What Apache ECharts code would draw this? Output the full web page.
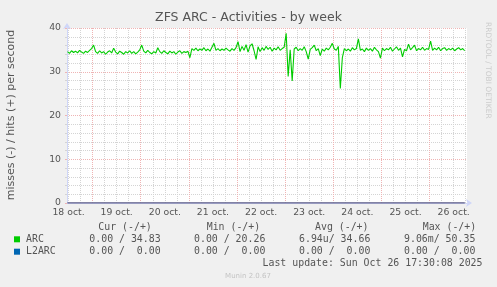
<!DOCTYPE html>
<html><head><meta charset="utf-8">
<script src="https://cdn.jsdelivr.net/npm/echarts@6/dist/echarts.min.js"></script>
<style>html,body{margin:0;padding:0;background:#f0f0f0;overflow:hidden}#c{width:497px;height:287px}</style>
</head><body><div id="c"></div>
<script>
// time is counted in hours from 18 oct 00:00
const viewStartHour = 11.24;
const viewEndHour = 210.65;
const arcStartHour = 11.5;
const arcStepHour = 1;
const arcHits = [
34.6,34.2,34.8,34.4,34.7,34.3,34.9,34.5,34.2,34.7,
34.4,34.9,35.3,36.1,34.6,34.2,34.8,34.3,34.6,34.0,
34.5,34.8,34.3,35.4,34.5,34.1,34.7,34.4,34.0,34.6,
34.3,34.8,34.2,34.6,34.1,34.5,35.0,36.1,34.7,34.3,
34.9,34.4,34.1,34.6,34.3,35.5,34.6,34.2,34.8,34.4,
34.1,34.7,34.3,34.6,34.0,34.5,34.8,34.2,34.6,34.4,
34.7,33.2,35.3,34.9,35.4,34.8,35.2,34.9,35.5,34.8,
35.2,34.7,35.6,36.5,34.9,35.3,34.8,35.2,34.9,35.4,
35.0,34.7,35.3,34.9,35.5,36.9,34.6,35.8,34.9,36.2,
34.5,35.9,36.4,34.8,32.8,35.7,34.6,35.5,34.9,35.8,
35.1,35.6,34.7,35.4,35.0,35.7,34.9,35.3,35.6,38.8,
28.9,35.0,27.9,35.2,35.6,34.8,35.3,34.9,35.7,34.6,
32.9,35.1,35.5,36.1,34.8,35.3,33.7,35.2,34.7,35.4,
35.0,35.6,36.5,35.2,34.9,35.8,26.2,33.2,35.3,34.8,
35.2,34.7,35.5,35.0,35.3,37.5,34.9,35.2,34.6,35.4,
34.9,35.3,34.7,35.6,35.0,34.6,33.1,35.4,34.8,35.3,
35.0,35.6,34.7,35.2,35.7,34.9,35.4,33.4,35.1,34.8,
36.3,35.0,35.5,36.1,34.8,35.3,35.0,35.6,34.9,35.3,
35.1,37.0,34.9,35.4,35.0,35.6,34.8,35.3,35.5,34.9,
35.3,35.0,35.4,34.8,35.2,35.5,35.0,35.3,34.8
];
const zeroHours = [11.5, 209.5];
const arcMisses = [0, 0];
const l2arcHits = [0, 0];
const l2arcMisses = [0, 0];
const dayLabels = ['18 oct.','19 oct.','20 oct.','21 oct.','22 oct.','23 oct.','24 oct.','25 oct.','26 oct.'];
const dayNoonHours = [12, 36, 60, 84, 108, 132, 156, 180, 204];
const yMin = 0, yMax = 40, yMajor = 10, yMinor = 2;
const legendHeaders = ['Cur (-/+)', 'Min (-/+)', 'Avg (-/+)', 'Max (-/+)'];
const legendNames = ['ARC', 'L2ARC'];
const legendColors = ['#00CC00', '#0066B3'];
const arcStats = ['0.00 / 34.83', '0.00 / 20.26', '6.94u/ 34.66', '9.06m/ 50.35'];
const l2arcStats = ['0.00 /  0.00', '0.00 /  0.00', '0.00 /  0.00', '0.00 /  0.00'];
const titleText = 'ZFS ARC - Activities - by week';
const yAxisName = 'misses (-) / hits (+) per second';
const lastUpdate = 'Last update: Sun Oct 26 17:30:08 2025';
const watermark = 'Munin 2.0.67';
const sideText = 'RRDTOOL / TOBI OETIKER';

const arcData = arcHits.map((v, i) => [arcStartHour + i * arcStepHour, v]);
const zeroData = (arr) => arr.map((v, i) => [zeroHours[i], v]);

const minorX = [], majorX = [];
for (let h = 6; h < viewEndHour; h += 6) {
  if (h < viewStartHour) continue;
  if (h % 24 === 0) majorX.push(h); else minorX.push(h);
}

const SANS = 'DejaVu Sans', MONO = 'DejaVu Sans Mono';
const FONT = '#555555';
const gridGrey = '#d4d4d4', gridRed = '#efb4b4', axisCol = '#CFD6F8', zeroCol = '#707096';

const graphic = [
  {type:'text', left:'center', top:11, style:{text:titleText, font:'12.5px "DejaVu Sans"', fill:'#555'}},
  {type:'text', x:11, y:115, rotation:Math.PI/2, style:{text:yAxisName, font:'11px "DejaVu Sans"', fill:FONT, align:'center', verticalAlign:'middle'}},
  {type:'text', x:488, y:22, rotation:-Math.PI/2, style:{text:sideText, font:'7.5px "DejaVu Sans"', fill:'#cccccc', align:'left', verticalAlign:'middle'}},
  {type:'text', x:482.5, y:263.5, style:{text:lastUpdate, font:'9.9px "DejaVu Sans Mono"', fill:FONT, align:'right', verticalAlign:'middle'}},
  {type:'text', x:248, y:275.7, style:{text:watermark, font:'7px "DejaVu Sans"', fill:'#c4c4c4', align:'center', verticalAlign:'middle'}}
];
const headerX = [98.3, 206.7, 315, 422.7];
const colX = [89.3, 194, 299, 404];
legendHeaders.forEach((t, i) => graphic.push({type:'text', x:headerX[i], y:227.3, style:{text:t, font:'9.9px "DejaVu Sans Mono"', fill:FONT, align:'left', verticalAlign:'middle'}}));
[arcStats, l2arcStats].forEach((row, r) => {
  const y = 239.3 + r * 12.4;
  graphic.push({type:'rect', shape:{x:14, y:y-3, width:6, height:6}, style:{fill:legendColors[r]}});
  graphic.push({type:'text', x:26, y:y, style:{text:legendNames[r], font:'9.9px "DejaVu Sans Mono"', fill:FONT, align:'left', verticalAlign:'middle'}});
  row.forEach((t, i) => graphic.push({type:'text', x:colX[i], y:y, style:{text:t, font:'9.9px "DejaVu Sans Mono"', fill:FONT, align:'left', verticalAlign:'middle'}}));
});

const chart = echarts.init(document.getElementById('c'), null, {renderer:'canvas'});
chart.setOption({
  animation:false,
  backgroundColor:'#f0f0f0',
  grid:{left:67, top:28, width:400, height:175, show:true, backgroundColor:'#ffffff', borderWidth:0, containLabel:false},
  xAxis:[
    {type:'value', min:viewStartHour, max:viewEndHour,
     axisLine:{show:true, symbol:['none','arrow'], symbolSize:[6,6], symbolOffset:[0,5], lineStyle:{color:axisCol, width:1}},
     axisTick:{show:false, customValues:minorX},
     splitLine:{show:true, lineStyle:{color:gridGrey, width:1, type:[1,1]}},
     axisLabel:{customValues:dayNoonHours, formatter:(v)=>dayLabels[dayNoonHours.indexOf(v)], color:FONT, fontFamily:SANS, fontSize:9.3, margin:5, showMinLabel:true, showMaxLabel:true}},
    {type:'value', min:viewStartHour, max:viewEndHour, position:'bottom',
     axisLine:{show:false}, axisTick:{show:false, customValues:majorX},
     axisLabel:{show:false},
     splitLine:{show:true, lineStyle:{color:gridRed, width:1, type:[1,1]}}}
  ],
  yAxis:[
    {type:'value', min:yMin, max:yMax, interval:yMinor,
     axisLine:{show:false}, axisLabel:{show:false},
     axisTick:{show:true, inside:false, length:2, lineStyle:{color:gridGrey}},
     splitLine:{show:true, lineStyle:{color:gridGrey, width:1, type:[1,1]}}},
    {type:'value', min:yMin, max:yMax, interval:yMajor, position:'left',
     axisLine:{show:true, symbol:['none','arrow'], symbolSize:[6,6], symbolOffset:[0,5], lineStyle:{color:axisCol, width:1}},
     axisTick:{show:true, length:2, lineStyle:{color:gridRed}},
     axisLabel:{color:FONT, fontFamily:SANS, fontSize:9.3, margin:6},
     splitLine:{show:true, lineStyle:{color:gridRed, width:1, type:[1,1]}}}
  ],
  graphic: graphic,
  series:[
    {name:'ARC misses', type:'line', xAxisIndex:0, yAxisIndex:1, data:zeroData(arcMisses), showSymbol:false, lineStyle:{color:zeroCol, width:1}, z:3},
    {name:'L2ARC misses', type:'line', xAxisIndex:0, yAxisIndex:1, data:zeroData(l2arcMisses), showSymbol:false, lineStyle:{color:zeroCol, width:1}, z:3},
    {name:'L2ARC hits', type:'line', xAxisIndex:0, yAxisIndex:1, data:zeroData(l2arcHits), showSymbol:false, lineStyle:{color:zeroCol, width:1}, z:4},
    {name:'ARC hits', type:'line', xAxisIndex:0, yAxisIndex:1, data:arcData, showSymbol:false, lineStyle:{color:'#00CC00', width:1.1}, z:5}
  ]
});
</script></body></html>
